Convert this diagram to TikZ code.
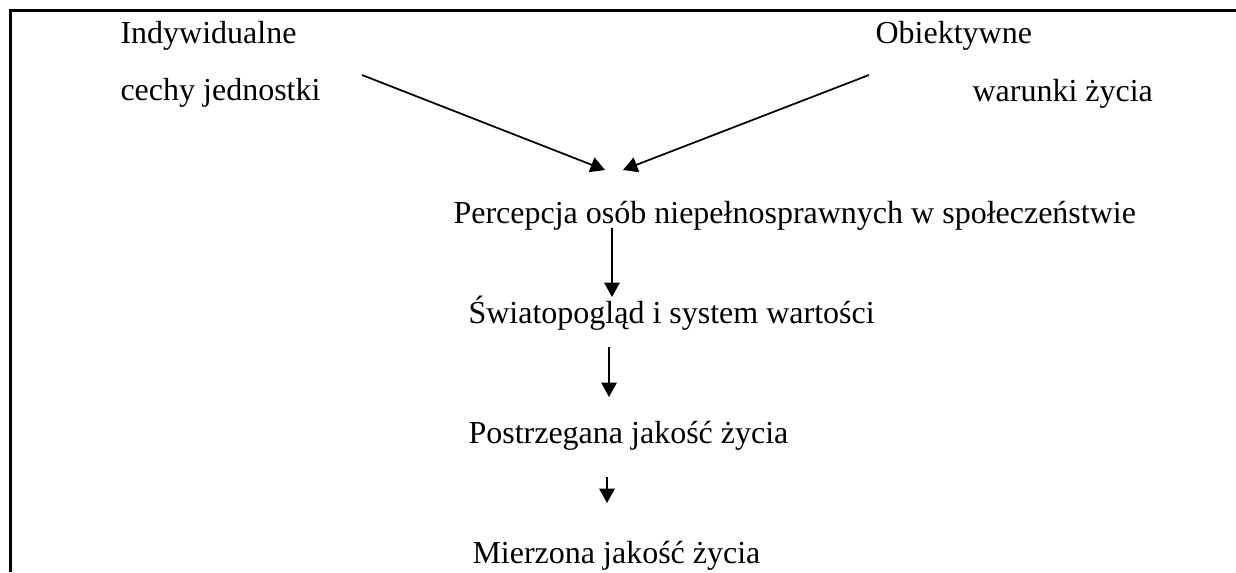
\documentclass[tikz,border=0pt]{standalone}
\usepackage{fontspec}
\setmainfont{Liberation Serif}
\usetikzlibrary{arrows.meta}
\tikzset{
  opis/.style={anchor=base west, inner sep=0pt, font=\fontsize{12}{14}\selectfont},
  strz/.style={line width=0.65pt, -{Triangle[length=5.4pt,width=5.8pt]}}
}

\begin{document}
\begin{tikzpicture}[x=0.375pt, y=-0.375pt]
			%%%%% START %%%%%
			\useasboundingbox (0,0) rectangle (1236,572);
			
			\draw[line width=1.1pt] (10.5,572) -- (10.5,10.5) -- (1236,10.5);
			
			\node[opis] (indyw) at (120,43) {Indywidualne};
			\node[opis] (cechy) at (120,100) {cechy jednostki};
			\node[opis] (obiekt) at (875,43) {Obiektywne};
			\node[opis] (warunki) at (972,101) {warunki życia};
			
			\node[opis] (percepcja) at (453,223) {Percepcja osób niepełnosprawnych w społeczeństwie};
			\node[opis] (swiat) at (468,323) {Światopogląd i system wartości};
			\node[opis] (postrz) at (468,443) {Postrzegana jakość życia};
			\node[opis] (mierz) at (472,563) {Mierzona jakość życia};
			
			\coordinate (s1) at (362,75);
			\coordinate (k1) at (605,170);
			\coordinate (s2) at (869,75);
			\coordinate (k2) at (623,170);
			\draw[strz] (s1) -- (k1);
			\draw[strz] (s2) -- (k2);
			
			\coordinate (s3) at (612,228);
			\coordinate (k3) at (612,297);
			\draw[strz] (s3) -- (k3);
			
			\coordinate (s4) at (609,347);
			\coordinate (k4) at (609,397);
			\draw[strz] (s4) -- (k4);
			
			\coordinate (s5) at (607,477);
			\coordinate (k5) at (607,503);
			\draw[strz] (s5) -- (k5);
			
			%%%%% END %%%%%
\end{tikzpicture}
\end{document}
